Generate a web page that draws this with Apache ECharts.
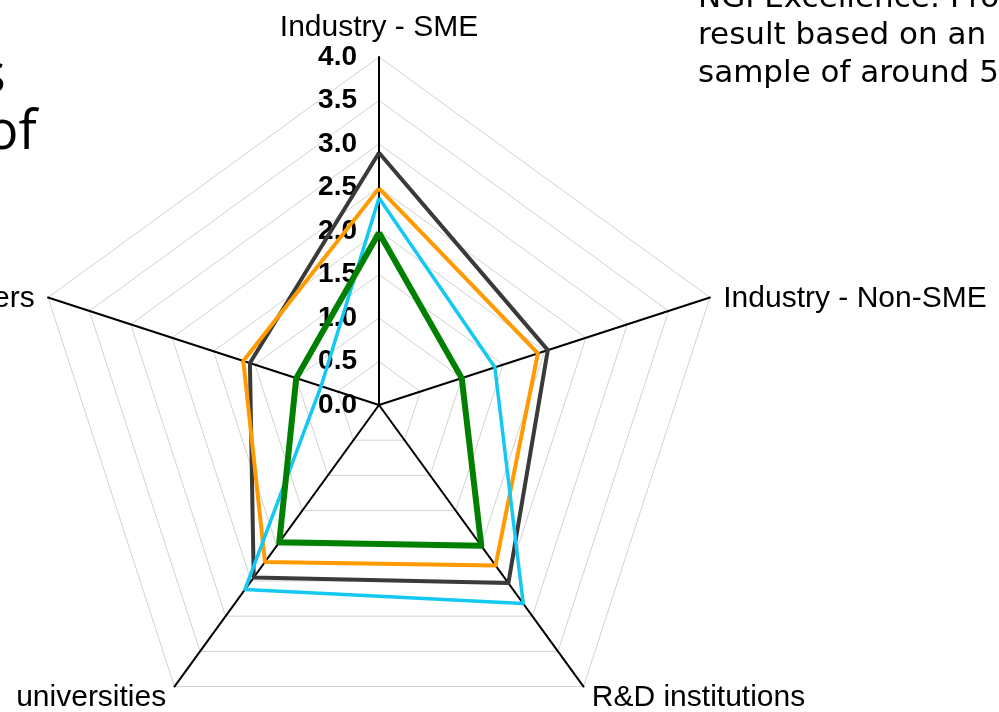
<!DOCTYPE html>
<html>
<head>
<meta charset="utf-8">
<script src="https://cdn.jsdelivr.net/npm/echarts@6/dist/echarts.min.js"></script>
<style>
  html, body { margin: 0; padding: 0; background: #fff; }
  #chart { width: 999px; height: 712px; }
</style>
</head>
<body>
<div id="chart"></div>
<script>
// Radar axes, listed counter-clockwise from the top
const indicatorNames = ['Industry - SME', 'Others', 'universities', 'R&D institutions', 'Industry - Non-SME'];
const axisMax = 4;
const axisSplits = 8;

// Average scores per stakeholder group
const seriesNames = ['Series 1', 'Series 2', 'Series 3', 'Series 4'];
const darkValues   = [2.90, 1.56, 2.45, 2.53, 2.04];
const orangeValues = [2.49, 1.64, 2.23, 2.28, 1.92];
const blueValues   = [2.38, 0.70, 2.62, 2.82, 1.40];
const greenValues  = [1.98, 1.00, 1.95, 2.00, 1.00];

// Slide text around the chart
const titleLines = ['s', 'of'];
const noteLines = ['NGI Excellence: Pro', 'result based on an', 'sample of around 5'];

const chart = echarts.init(document.getElementById('chart'), null, { renderer: 'canvas' });

const tickLabelStyle = {
  show: true,
  color: '#000',
  fontWeight: 'bold',
  fontSize: 28,
  fontFamily: 'Liberation Sans, Arial, sans-serif',
  margin: 22,
  formatter: v => Number(v).toFixed(1)
};

const lineSeries = [
  { values: darkValues,   color: '#3a3a3a', width: 4 },
  { values: orangeValues, color: '#ff9a00', width: 4 },
  { values: blueValues,   color: '#14c8f4', width: 3.5 },
  { values: greenValues,  color: '#008000', width: 6 }
];

// the two side axes carry their names a little lower
const sideAxes = [1, 4];

chart.setOption({
  animation: false,
  backgroundColor: '#fff',
  radar: {
    center: [379, 405],
    radius: 348,
    startAngle: 90,
    shape: 'polygon',
    splitNumber: axisSplits,
    nameGap: 14,
    indicator: indicatorNames.map((name, i) => {
      const ind = { name: name, min: 0, max: axisMax };
      if (i === 0) ind.axisLabel = tickLabelStyle;
      return ind;
    }),
    axisName: {
      color: '#000',
      fontSize: 30,
      fontFamily: 'Liberation Sans, Arial, sans-serif',
      formatter: (value) => {
        const idx = indicatorNames.indexOf(value);
        return sideAxes.indexOf(idx) >= 0 ? '{side|' + value + '}' : value;
      },
      rich: {
        side: {
          fontSize: 30,
          color: '#000',
          fontFamily: 'Liberation Sans, Arial, sans-serif',
          padding: [12, 0, 0, 0]
        }
      }
    },
    axisLine: { lineStyle: { color: '#000', width: 2 } },
    axisTick: { show: false },
    axisLabel: { show: false },
    splitLine: { lineStyle: { color: '#d2d2d2', width: 1 } },
    splitArea: { show: false }
  },
  series: lineSeries.map((s, i) => ({
    type: 'radar',
    name: seriesNames[i],
    symbol: 'none',
    z: 2 + i,
    data: [{
      value: s.values,
      name: seriesNames[i],
      lineStyle: { color: s.color, width: s.width },
      itemStyle: { color: s.color },
      areaStyle: { opacity: 0 }
    }]
  })),
  graphic: [
    {
      type: 'text', x: -20, y: 50, silent: true,
      style: { text: titleLines[0], font: '54px "Open Sans", sans-serif', fill: '#000' }
    },
    {
      type: 'text', x: -14, y: 107, silent: true,
      style: { text: titleLines[1], font: '54px "Open Sans", sans-serif', fill: '#000' }
    },
    ...noteLines.map((t, i) => ({
      type: 'text', x: 698, y: -17 + i * 37.5, silent: true,
      style: { text: t, font: '31px "DejaVu Sans", Verdana, sans-serif', fill: '#000' }
    }))
  ]
});
</script>
</body>
</html>
